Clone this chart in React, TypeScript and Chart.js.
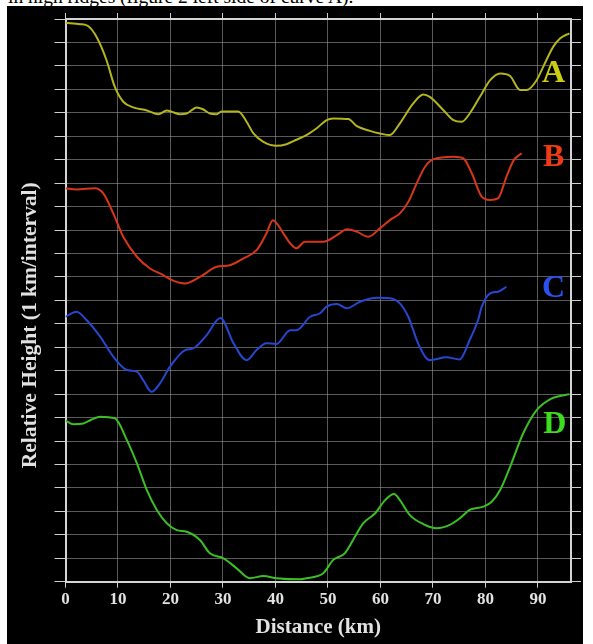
import React, { useEffect, useRef } from "react";
import { Chart, registerables } from "chart.js";

Chart.register(...registerables);

// ---- data (distance in km, relative height in 1 km grid intervals) ----
const X_MAX = 96.3;
const Y_MAX = 24;

const aKm = [0, 2.8, 4.3, 5.9, 7.8, 9.4, 11, 12.9, 15.5, 17.7, 19.3, 20.2, 21.8, 23.1, 25, 26.2, 27.5, 28.8, 29.75, 32.9, 34.5, 35.8, 37.7, 40.2, 42.1, 44, 45.9, 47.8, 49.75, 51, 53.9, 55.5, 58, 59.9, 61.8, 63.7, 66.25, 68.15, 69.4, 72, 73.9, 75.5, 77, 78.95, 80.9, 82.8, 84.7, 86.6, 87.85, 89.75, 91, 92.9, 94.2, 96];
const aHeight = [23.84, 23.78, 23.7, 23.24, 22.25, 21.1, 20.47, 20.23, 20.1, 19.94, 20.1, 20.05, 19.94, 19.97, 20.23, 20.15, 19.97, 19.94, 20.06, 20.06, 19.62, 19.12, 18.76, 18.59, 18.66, 18.85, 19.05, 19.33, 19.69, 19.76, 19.73, 19.43, 19.23, 19.12, 19.05, 19.55, 20.4, 20.78, 20.68, 20.11, 19.69, 19.62, 19.97, 20.68, 21.39, 21.68, 21.57, 20.97, 20.97, 21.39, 21.96, 22.81, 23.17, 23.39];

const bKm = [0, 2.1, 5.6, 7.2, 9.1, 11, 13.6, 16.1, 18.6, 20.5, 22.8, 25.6, 28.8, 31.3, 33.9, 36.4, 38.3, 39.5, 41.5, 42.8, 44, 45.6, 49.1, 51.7, 53.6, 55.5, 57.7, 59.9, 61.8, 63.7, 65.3, 66.9, 68.5, 70.05, 73.9, 75.8, 77.4, 79.3, 80.9, 82.4, 84, 85.4, 86.9];
const bHeight = [16.78, 16.73, 16.78, 16.56, 15.71, 14.71, 13.86, 13.36, 13.08, 12.84, 12.72, 13.0, 13.43, 13.5, 13.79, 14.14, 14.86, 15.42, 14.86, 14.43, 14.22, 14.5, 14.5, 14.78, 15.03, 14.93, 14.71, 15.07, 15.42, 15.71, 16.2, 16.99, 17.7, 18.01, 18.12, 18.05, 17.42, 16.42, 16.28, 16.35, 17.27, 17.98, 18.27];

const cKm = [0, 2.1, 4.0, 6.6, 9.1, 11.7, 13.6, 14.8, 16.4, 18.0, 19.9, 22.8, 24.3, 26.9, 29.5, 32, 34.5, 36.4, 38.3, 40.2, 42.8, 44, 46.6, 48.5, 49.75, 51.7, 53.6, 56.1, 59.3, 61.8, 63.7, 65.3, 66.25, 66.9, 68.5, 69.4, 72.6, 75.1, 77, 78.6, 79.3, 80.9, 82.4, 84];
const cHeight = [11.3, 11.51, 11.16, 10.45, 9.6, 9.03, 8.96, 8.6, 8.1, 8.46, 9.17, 9.88, 9.95, 10.52, 11.25, 10.17, 9.45, 9.88, 10.17, 10.14, 10.73, 10.73, 11.3, 11.45, 11.73, 11.84, 11.66, 11.94, 12.11, 12.09, 11.87, 11.3, 10.73, 10.31, 9.6, 9.45, 9.57, 9.48, 10.31, 11.16, 11.73, 12.3, 12.37, 12.58];

const dKm = [0, 1.5, 3.4, 5.0, 6.6, 9.4, 11.7, 13.6, 15.5, 17.4, 19.3, 21.2, 23.1, 25.6, 27.5, 30.1, 32.6, 35.1, 37.7, 40.2, 44.7, 45.9, 49.1, 51, 53.2, 55.5, 56.7, 59, 60.9, 62.6, 63.7, 65.6, 68.15, 70.7, 73.2, 75.1, 77, 79.6, 81.2, 82.8, 84.7, 87.2, 89.75, 92.3, 94.2, 96];
const dHeight = [6.87, 6.72, 6.75, 6.92, 7.04, 6.97, 6.04, 5.05, 3.91, 3.06, 2.49, 2.2, 2.13, 1.78, 1.21, 1.0, 0.57, 0.15, 0.24, 0.15, 0.1, 0.15, 0.36, 0.93, 1.21, 2.06, 2.49, 2.92, 3.48, 3.74, 3.48, 2.84, 2.46, 2.28, 2.42, 2.7, 3.06, 3.2, 3.41, 3.91, 4.9, 6.33, 7.32, 7.78, 7.92, 8.0];

const curveNames = ["A", "B", "C", "D"];
const labelKm = [93.0, 93.0, 93.0, 93.2];
const labelHeight = [21.65, 18.07, 12.48, 6.68];

const lineColors = ["#b4b41e", "#d8361a", "#2747d0", "#3cbf24"];
const labelColors = ["#cccc10", "#f03a14", "#2a50f0", "#3ddc1e"];

const xTitle = "Distance (km)";
const yTitle = "Relative Height (1 km/interval)";
const captionText = "in high ridges (figure 2 left side of curve A).";

const toPoints = (xs: number[], ys: number[]) => xs.map((x, i) => ({ x, y: ys[i] }));

const GRID = "rgba(150,150,150,0.6)";
const AXIS = "#d4d4d4";
const TICKMARK = "#d0d0d0";
const TEXT = "#e2e2e2";
const SERIF = '"Liberation Serif", "Times New Roman", serif';

const labelPlugin = {
  id: "curveLabels",
  afterDatasetsDraw(chart: any) {
    const { ctx, scales, chartArea } = chart;
    const x = scales.x;
    const y = scales.y;
    ctx.save();
    ctx.font = `bold 32px ${SERIF}`;
    ctx.textAlign = "center";
    ctx.textBaseline = "middle";
    curveNames.forEach((t, i) => {
      ctx.fillStyle = labelColors[i];
      ctx.fillText(t, x.getPixelForValue(labelKm[i]), y.getPixelForValue(labelHeight[i]));
    });
    ctx.restore();

    ctx.save();
    ctx.translate(23, (chartArea.top + chartArea.bottom) / 2 + 25);
    ctx.rotate(-Math.PI / 2);
    ctx.font = `bold 21.5px ${SERIF}`;
    ctx.fillStyle = TEXT;
    ctx.textAlign = "center";
    ctx.textBaseline = "middle";
    ctx.fillText(yTitle, 0, 0);
    ctx.restore();
  },
};

function ProfileChart() {
  const ref = useRef<HTMLCanvasElement | null>(null);
  useEffect(() => {
    if (!ref.current) return;
    const series = [
      toPoints(aKm, aHeight),
      toPoints(bKm, bHeight),
      toPoints(cKm, cHeight),
      toPoints(dKm, dHeight),
    ];
    const chart = new Chart(ref.current, {
      type: "line",
      data: {
        datasets: series.map((d, i) => ({
          label: curveNames[i],
          data: d,
          borderColor: lineColors[i],
          borderWidth: 2,
          pointRadius: 0,
          fill: false,
          cubicInterpolationMode: "monotone" as const,
        })),
      },
      options: {
        responsive: false,
        animation: false,
        layout: { padding: 0 },
        plugins: { legend: { display: false }, tooltip: { enabled: false } },
        scales: {
          x: {
            type: "linear",
            position: "bottom",
            min: 0,
            max: X_MAX,
            ticks: {
              stepSize: 10,
              includeBounds: false,
              color: TEXT,
              padding: 2,
              maxRotation: 0,
              font: { family: SERIF, weight: "bold", size: 17 },
            },
            grid: { color: GRID, lineWidth: 1, tickLength: 6, tickColor: TICKMARK },
            border: { color: AXIS, width: 2 },
            title: {
              display: true,
              text: xTitle,
              color: TEXT,
              font: { family: SERIF, weight: "bold", size: 21 },
              padding: { top: 0, bottom: 4 },
            },
            afterFit: (s: any) => {
              s.height = 62.3;
            },
          },
          x2: {
            type: "linear",
            position: "top",
            min: 0,
            max: X_MAX,
            ticks: { stepSize: 10, includeBounds: false, display: false },
            grid: { drawOnChartArea: false, tickLength: 6, color: TICKMARK },
            border: { color: AXIS, width: 2 },
            afterFit: (s: any) => {
              s.height = 13;
            },
          },
          y: {
            type: "linear",
            position: "left",
            min: 0,
            max: Y_MAX,
            ticks: { stepSize: 1, display: false },
            grid: { color: GRID, lineWidth: 1, tickLength: 11, tickColor: TICKMARK },
            border: { color: AXIS, width: 2 },
            afterFit: (s: any) => {
              s.width = 58.5;
            },
          },
          y2: {
            type: "linear",
            position: "right",
            min: 0,
            max: Y_MAX,
            ticks: { stepSize: 1, display: false },
            grid: { drawOnChartArea: false, tickLength: 10, color: TICKMARK },
            border: { color: AXIS, width: 2 },
            afterFit: (s: any) => {
              s.width = 12;
            },
          },
        },
      } as any,
      plugins: [labelPlugin],
    });
    return () => chart.destroy();
  }, []);
  return <canvas ref={ref} width={576} height={638} style={{ display: "block", width: 576, height: 638 }} />;
}

export default function App() {
  return (
    <div
      style={{
        position: "fixed",
        left: 0,
        top: 0,
        width: 593,
        height: 644,
        background: "#fff",
        overflow: "hidden",
      }}
    >
      <div
        style={{
          position: "absolute",
          left: 8,
          top: -12.8,
          fontFamily: SERIF,
          fontSize: 19.5,
          lineHeight: "19.5px",
          whiteSpace: "nowrap",
          color: "#000",
        }}
      >
        {captionText}
      </div>
      <div
        style={{
          position: "absolute",
          left: 7,
          top: 6,
          width: 576,
          height: 638,
          background: "#000",
        }}
      >
        <ProfileChart />
      </div>
    </div>
  );
}
